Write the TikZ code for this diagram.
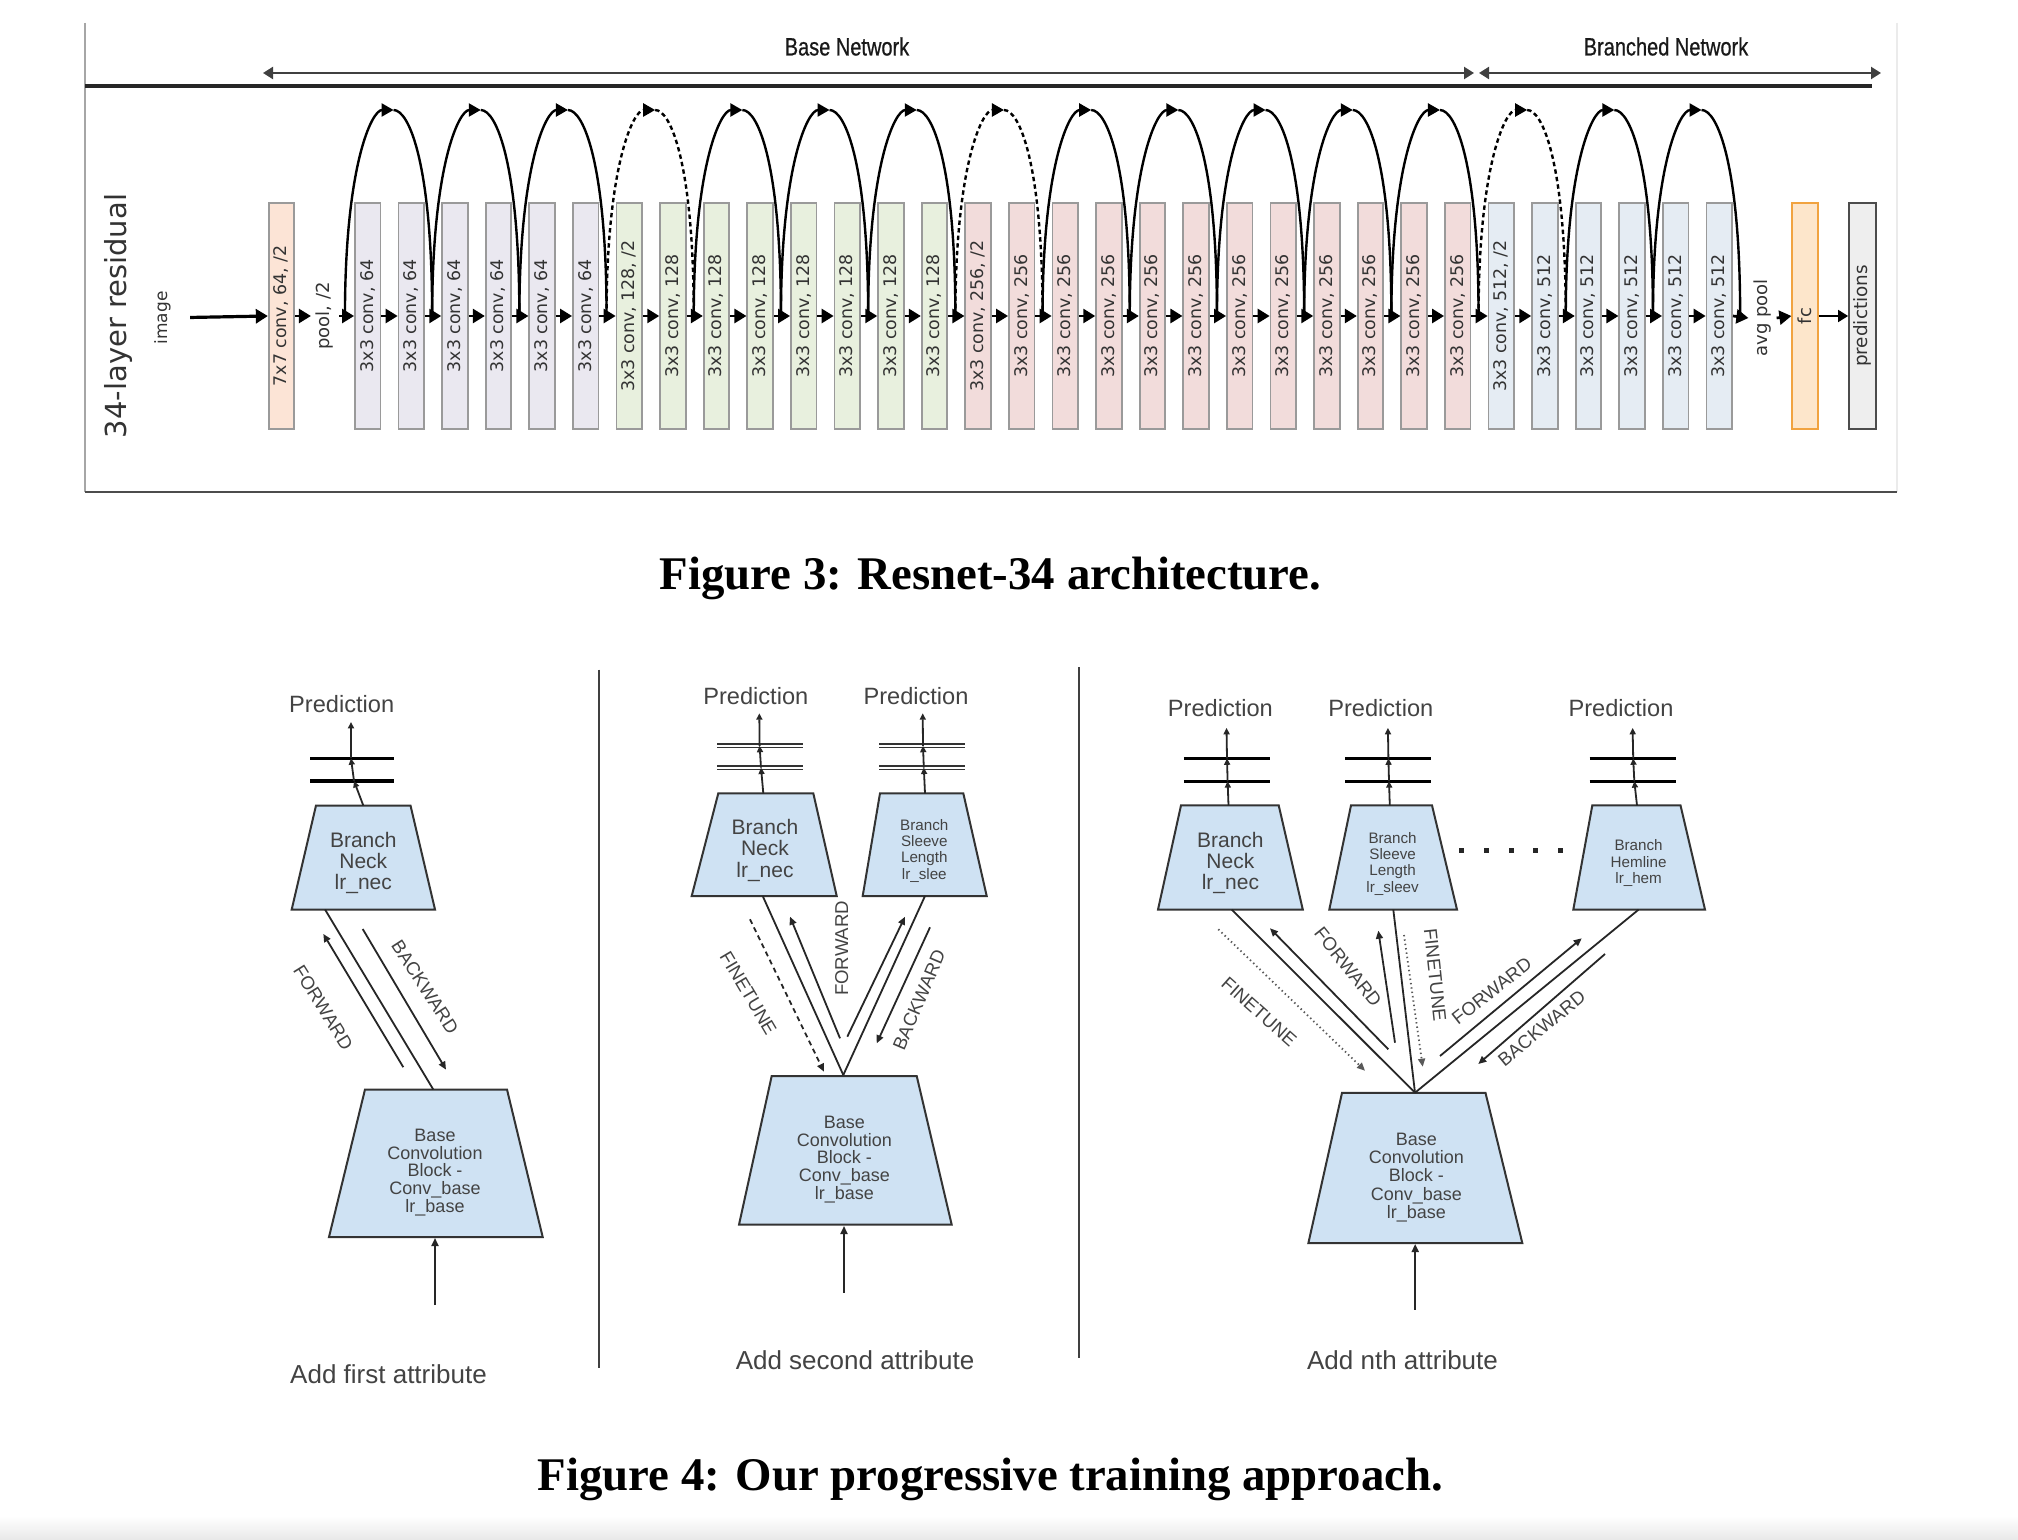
\documentclass[tikz,border=0pt]{standalone}
\usepackage{fontspec}
\setmainfont{Liberation Sans}
\newfontfamily\dvs{DejaVu Sans}
\newfontfamily\narrowsans{Liberation Sans}[FakeStretch=0.8,FakeBold=0.6]
\newfontfamily\capserif{Liberation Serif}
\usetikzlibrary{arrows.meta}
\definecolor{c77}{HTML}{FCE4D6}
\definecolor{c64}{HTML}{EAE8F0}
\definecolor{c128}{HTML}{E8F0DE}
\definecolor{c256}{HTML}{F2DCDB}
\definecolor{c512}{HTML}{E5ECF3}
\definecolor{cfc}{HTML}{FDE6CB}
\definecolor{cfcb}{HTML}{F1A340}
\definecolor{cpred}{HTML}{EEEEEE}
\definecolor{bord}{HTML}{9A9A9A}
\definecolor{trapfill}{HTML}{CFE2F3}
\definecolor{txt}{HTML}{434343}
\newcommand\fsz[2]{\fontsize{#1}{#2}\selectfont}
\newcommand\skiparc[2]{%
  \pgfmathsetmacro\xs{344.95+87.2*#1}%
  \pgfmathsetmacro\xe{\xs+87.2}%
  \pgfmathsetmacro\xm{\xs+43.6}%
  \pgfmathsetmacro\xt{\xm+5}%
  \pgfmathsetmacro\xa{\xm-17}%
  \pgfmathsetmacro\xb{\xm+21}%
  \coordinate (as#1) at (\xs,316);
  \coordinate (am#1) at (\xt,110);
  \coordinate (ae#1) at (\xe,316);
  \draw[#2,-{Triangle[length=6pt,width=6.5pt]}] (as#1) .. controls (\xs,166) and (\xa,110) .. (am#1);
  \draw[#2] (am#1) .. controls (\xb,110) and (\xe,166) .. (ae#1);
}
\begin{document}
\begin{tikzpicture}[x=0.5pt,y=-0.5pt,
 rbox/.style={draw=bord,line width=0.9pt,minimum width=12.75pt,minimum height=113.25pt,inner sep=0pt,text=black!80,font=\dvs\fsz{8.7}{10}},
 flow/.style={line width=1.35pt,-{Triangle[length=6pt,width=7pt]}},
 arcsolid/.style={line width=1.2pt},
 arcdashed/.style={arcsolid,dash pattern=on 2.2pt off 1.6pt},
 vlab/.style={inner sep=2.5pt,text=black!80,font=\dvs\fsz{9}{10}},
 netarrow/.style={draw=black!75,line width=1.1pt,{Triangle[length=5pt,width=6pt]}-{Triangle[length=5pt,width=6pt]}},
 netlab/.style={inner sep=0pt,text=black!90,font=\narrowsans\fsz{12.5}{14}},
 trap/.style={fill=trapfill,draw=black!80,line width=1pt},
 conn/.style={draw=black!85,line width=0.9pt},
 arr/.style={conn,-{Triangle[length=4pt,width=3.5pt]}},
 predarr/.style={conn,-{Triangle[length=3.2pt,width=3pt]}},
 bar/.style={line width=1.6pt,draw=black},
 dbar/.style={draw=black!80,line width=0.75pt,double=white,double distance=1pt},
 lab/.style={inner sep=0pt,text=txt,font=\fsz{9.3}{10}},
 ptext/.style={inner sep=0pt,text=txt,font=\fsz{11.8}{13}},
 addtxt/.style={inner sep=0pt,text=txt,font=\fsz{13}{15}},
 bigtxt/.style={inner sep=0pt,text=txt,align=center,font=\fsz{10.5}{10.65}},
 basetxt/.style={inner sep=0pt,text=txt,align=center,font=\fsz{9}{8.9}},
 smalltxt/.style={inner sep=0pt,text=txt,align=center,font=\fsz{7.6}{8.2}},
 sepline/.style={draw=black!75,line width=1pt},
 dashedft/.style={arr,dash pattern=on 2.5pt off 2pt},
 dottedft/.style={arr,draw=black!65,dash pattern=on 0.7pt off 1.5pt},
 capstyle/.style={inner sep=0pt,anchor=base,font=\capserif\bfseries\fsz{23.4}{28}}
]
\useasboundingbox (0,0) rectangle (2018,1540);
\fill[white] (0,0) rectangle (2018,1540);
\shade[top color=white,bottom color=black!9] (0,1516) rectangle (2018,1540);

% ---------------- Figure 3 frame ----------------
\draw[black!35,line width=0.75pt] (85,23) -- (85,492);
\draw[black!8,line width=0.75pt] (1897,23) -- (1897,492);
\draw[black!70,line width=1pt] (85,492) -- (1897,492);
\draw[black!85,line width=2pt] (85,86.5) -- (1872,86.5);

\coordinate (bnl) at (263,73);
\coordinate (bnr) at (1474,73);
\coordinate (brl) at (1479,73);
\coordinate (brr) at (1881,73);
\draw[netarrow] (bnl) -- (bnr);
\draw[netarrow] (brl) -- (brr);
\node[netlab] (basenet) at (847,46.5) {Base Network};
\node[netlab] (branchnet) at (1666,46.5) {Branched Network};

\node[inner sep=0pt,text=black!80,font=\dvs\fsz{14.5}{16}] (title) at (118,316) {\rotatebox{90}{34-layer residual}};
\node[inner sep=1.5pt,text=black!80,font=\dvs\fsz{8.5}{10}] (image) at (162.5,318) {\rotatebox{90}{image}};

\node[rbox,fill=c77] (b77) at (281.5,316) {\rotatebox{90}{7x7 conv, 64, /2}};
\node[vlab] (pool) at (325,316) {\rotatebox{90}{pool, /2}};

\foreach \i in {0,...,5}{
  \node[rbox,fill=c64] (b\i) at ({367.7+43.6*\i},316) {\rotatebox{90}{3x3 conv, 64}};}
\foreach \i in {6,...,13}{
  \node[rbox,fill=c128] (b\i) at ({367.7+43.6*\i},316) {\rotatebox{90}{3x3 conv, 128\ifnum\i=6 , /2\fi}};}
\foreach \i in {14,...,25}{
  \node[rbox,fill=c256] (b\i) at ({367.7+43.6*\i},316) {\rotatebox{90}{3x3 conv, 256\ifnum\i=14 , /2\fi}};}
\foreach \i in {26,...,31}{
  \node[rbox,fill=c512] (b\i) at ({367.7+43.6*\i},316) {\rotatebox{90}{3x3 conv, 512\ifnum\i=26 , /2\fi}};}

\node[vlab] (avgpool) at (1762.5,318) {\rotatebox{90}{avg pool}};
\node[rbox,draw=cfcb,fill=cfc,font=\dvs\fsz{9}{10}] (fc) at (1805,316) {\rotatebox{90}{fc}};
\node[rbox,draw=black!70,fill=cpred,minimum width=13.5pt,font=\dvs\fsz{9.2}{10}] (preds) at (1862.5,316) {\rotatebox{90}{predictions}};

% skip connections
\foreach \k in {0,1,2,4,5,6,8,9,10,11,12,14,15}{\skiparc{\k}{arcsolid}}
\foreach \k in {3,7,13}{\skiparc{\k}{arcdashed}}

% main flow
\draw[flow,line width=1.6pt,shorten <=8pt] (image) -- (b77.west);
\draw[flow] (b77.east) -- (pool.west);
\draw[flow] (pool.east) -- (b0.west);
\foreach \i [evaluate=\i as \j using int(\i+1)] in {0,...,30}{
  \draw[flow] (b\i.east) -- (b\j.west);}
\draw[flow] (b31.east) -- (avgpool.west);
\draw[flow] (avgpool.east) -- (fc.west);
\draw[line width=0.9pt,-{Triangle[length=5pt,width=6pt]}] (fc.east) -- (preds.west);

\node[capstyle] (cap3) at (990.5,589.3) {Figure 3: Resnet-34 architecture.};

% ---------------- Figure 4 ----------------
\draw[sepline] (599.3,669.7) -- (599.3,1367.7);
\draw[sepline] (1078.5,667) -- (1078.5,1358);

% ---- panel 1
\filldraw[trap] (316,805.5) -- (410.5,805.5) -- (435,909.5) -- (291.7,909.5) -- cycle;
\node[bigtxt] (neck1) at (363.3,863) {Branch\\Neck\\lr\_nec};
\filldraw[trap] (365,1089.5) -- (507,1089.5) -- (542.7,1237) -- (329,1237) -- cycle;
\node[basetxt] (base1) at (435,1172.5) {Base\\Convolution\\Block -\\Conv\_base\\lr\_base};
\node[ptext] (pred1) at (341.7,704.5) {Prediction};
\draw[bar] (310,758.3) -- (394,758.3);
\draw[bar] (310,781) -- (394,781);
\coordinate (n1t) at (363.3,805.5);
\coordinate (n1q) at (354,781);
\coordinate (n1p) at (351,758.3);
\coordinate (n1o) at (351,722);
\draw[predarr] (n1t) -- (n1q);
\draw[predarr] (n1q) -- (n1p);
\draw[predarr] (n1p) -- (n1o);
\coordinate (n1b) at (325,909.5);
\coordinate (b1t) at (433.3,1089.5);
\draw[conn] (n1b) -- (b1t);
\coordinate (f1s) at (403.3,1067.2);
\coordinate (f1e) at (323.3,933.9);
\draw[arr] (f1s) -- (f1e);
\coordinate (k1s) at (362.7,929);
\coordinate (k1e) at (446,1069.6);
\draw[arr] (k1s) -- (k1e);
\node[lab,rotate=-58] (fw1) at (323.3,1007.8) {FORWARD};
\node[lab,rotate=-57] (bw1) at (425,987) {BACKWARD};
\coordinate (in1) at (435,1305);
\coordinate (b1b) at (435,1238);
\draw[arr] (in1) -- (b1b);
\node[addtxt] (add1) at (388.5,1374.5) {Add first attribute};

% ---- panel 2
\filldraw[trap] (718.3,793.3) -- (813.3,793.3) -- (836.7,896) -- (691.7,896) -- cycle;
\node[bigtxt] (neck2) at (765,850.3) {Branch\\Neck\\lr\_nec};
\filldraw[trap] (880,793.3) -- (963.3,793.3) -- (986.7,896) -- (862.7,896) -- cycle;
\node[smalltxt] (sleeve2) at (924.3,850.7) {Branch\\Sleeve\\Length\\lr\_slee};
\filldraw[trap] (771.7,1076) -- (916.7,1076) -- (951.7,1224.7) -- (739,1224.7) -- cycle;
\node[basetxt] (base2) at (844.3,1159.4) {Base\\Convolution\\Block -\\Conv\_base\\lr\_base};
\node[ptext] (pred2a) at (755.8,696.4) {Prediction};
\node[ptext] (pred2b) at (916,696.4) {Prediction};
\draw[dbar] (717,745.8) -- (803.3,745.8);
\draw[dbar] (717,767.6) -- (803.3,767.6);
\draw[dbar] (879.3,745.8) -- (965,745.8);
\draw[dbar] (879.3,767.6) -- (965,767.6);
\coordinate (n2t) at (763.3,793.3);
\coordinate (n2q) at (761,767.6);
\coordinate (n2p) at (759.6,745.8);
\coordinate (n2o) at (759.3,713.3);
\draw[predarr] (n2t) -- (n2q);
\draw[predarr] (n2q) -- (n2p);
\draw[predarr] (n2p) -- (n2o);
\coordinate (s2t) at (925,793.3);
\coordinate (s2q) at (923.8,767.6);
\coordinate (s2p) at (923,745.8);
\coordinate (s2o) at (922.7,713.3);
\draw[predarr] (s2t) -- (s2q);
\draw[predarr] (s2q) -- (s2p);
\draw[predarr] (s2p) -- (s2o);
\coordinate (apex2) at (843.3,1075);
\coordinate (n2b) at (762.7,896);
\coordinate (s2b) at (925,896);
\draw[conn] (n2b) -- (apex2);
\draw[conn] (s2b) -- (apex2);
\coordinate (ft2s) at (750,919.3);
\coordinate (ft2e) at (824,1071.7);
\draw[dashedft] (ft2s) -- (ft2e);
\coordinate (f2s) at (840,1038.3);
\coordinate (f2e) at (790,916.7);
\draw[arr] (f2s) -- (f2e);
\coordinate (g2s) at (847.3,1036.7);
\coordinate (g2e) at (905,916.7);
\draw[arr] (g2s) -- (g2e);
\coordinate (k2s) at (930,927.3);
\coordinate (k2e) at (876.7,1043.3);
\draw[arr] (k2s) -- (k2e);
\node[lab,rotate=-59.4] (ftl2) at (748.3,993.3) {FINETUNE};
\node[lab,rotate=90] (fw2) at (841.7,948.3) {FORWARD};
\node[lab,rotate=67] (bw2) at (919,1000) {BACKWARD};
\coordinate (in2) at (844,1292.6);
\coordinate (b2b) at (844,1226);
\draw[arr] (in2) -- (b2b);
\node[addtxt] (add2) at (855,1360.4) {Add second attribute};

% ---- panel 3
\filldraw[trap] (1181,805.4) -- (1278.7,805.4) -- (1302.8,909.6) -- (1158,909.6) -- cycle;
\node[bigtxt] (neck3) at (1230.4,862.8) {Branch\\Neck\\lr\_nec};
\filldraw[trap] (1351,805.4) -- (1432,805.4) -- (1457,909.6) -- (1329.3,909.6) -- cycle;
\node[smalltxt] (sleeve3) at (1392.6,863.6) {Branch\\Sleeve\\Length\\lr\_sleev};
\filldraw[trap] (1592.3,805.4) -- (1680.5,805.4) -- (1705,909.6) -- (1573.3,909.6) -- cycle;
\node[smalltxt] (hem3) at (1638.6,863.3) {Branch\\Hemline\\lr\_hem};
\filldraw[trap] (1342,1092.9) -- (1485.5,1092.9) -- (1522.3,1243) -- (1308.4,1243) -- cycle;
\node[basetxt,font=\fsz{9}{9.05}] (base3) at (1416.3,1177.5) {Base\\Convolution\\Block -\\Conv\_base\\lr\_base};
\node[ptext] (pred3a) at (1220.4,708.5) {Prediction};
\node[ptext] (pred3b) at (1380.8,708.5) {Prediction};
\node[ptext] (pred3c) at (1621,708.5) {Prediction};
\foreach \xa/\xb in {1183.8/1270,1345/1431.4,1589.5/1675.7}{
  \draw[bar] (\xa,758.4) -- (\xb,758.4);
  \draw[bar] (\xa,781.2) -- (\xb,781.2);}
\coordinate (n3t) at (1228.5,805.4);
\coordinate (n3q) at (1227.6,781.2);
\coordinate (n3p) at (1227,758.4);
\coordinate (n3o) at (1226.5,727.9);
\draw[predarr] (n3t) -- (n3q);
\draw[predarr] (n3q) -- (n3p);
\draw[predarr] (n3p) -- (n3o);
\coordinate (s3t) at (1389.8,805.4);
\coordinate (s3q) at (1389,781.2);
\coordinate (s3p) at (1388.4,758.4);
\coordinate (s3o) at (1387.9,727.9);
\draw[predarr] (s3t) -- (s3q);
\draw[predarr] (s3q) -- (s3p);
\draw[predarr] (s3p) -- (s3o);
\coordinate (h3t) at (1637,805.4);
\coordinate (h3q) at (1634.3,781.2);
\coordinate (h3p) at (1633.2,758.4);
\coordinate (h3o) at (1632.6,727.9);
\draw[predarr] (h3t) -- (h3q);
\draw[predarr] (h3q) -- (h3p);
\draw[predarr] (h3p) -- (h3o);
\foreach \d in {0,...,4}{
  \fill[black!85] ({1459.3+24.7*\d},848) rectangle ++(5,5);}
\coordinate (apex3) at (1415,1092.7);
\coordinate (n3b) at (1231.7,909.6);
\coordinate (s3b) at (1393.3,909.6);
\coordinate (h3b) at (1638.6,909.6);
\draw[conn] (n3b) -- (apex3);
\draw[conn] (s3b) -- (apex3);
\draw[conn] (h3b) -- (apex3);
\coordinate (ft3s) at (1218.3,929.3);
\coordinate (ft3e) at (1365,1070.7);
\draw[dottedft] (ft3s) -- (ft3e);
\coordinate (f3s) at (1388.3,1049.3);
\coordinate (f3e) at (1270,928.3);
\draw[arr] (f3s) -- (f3e);
\coordinate (g3s) at (1395,1042.7);
\coordinate (g3e) at (1378.3,930.7);
\draw[arr] (g3s) -- (g3e);
\coordinate (gt3s) at (1404,935);
\coordinate (gt3e) at (1422.7,1066.7);
\draw[dottedft] (gt3s) -- (gt3e);
\coordinate (h3s) at (1440,1056);
\coordinate (h3e) at (1581.7,938.3);
\draw[arr] (h3s) -- (h3e);
\coordinate (k3s) at (1605,954);
\coordinate (k3e) at (1478.3,1064);
\draw[arr] (k3s) -- (k3e);
\node[lab,rotate=-41.6] (ftl3) at (1259,1011.7) {FINETUNE};
\node[lab,rotate=-51.4] (fw3a) at (1348,967) {FORWARD};
\node[lab,rotate=-84] (ftr3) at (1435,975) {FINETUNE};
\node[lab,rotate=38] (fw3b) at (1491.7,990.8) {FORWARD};
\node[lab,rotate=39.5] (bw3) at (1541.7,1028.3) {BACKWARD};
\coordinate (in3) at (1415.2,1309.5);
\coordinate (b3b) at (1415.2,1244);
\draw[arr] (in3) -- (b3b);
\node[addtxt] (add3) at (1402.5,1360.4) {Add nth attribute};

\node[capstyle] (cap4) at (990.5,1490) {Figure 4: Our progressive training approach.};
\end{tikzpicture}
\end{document}
